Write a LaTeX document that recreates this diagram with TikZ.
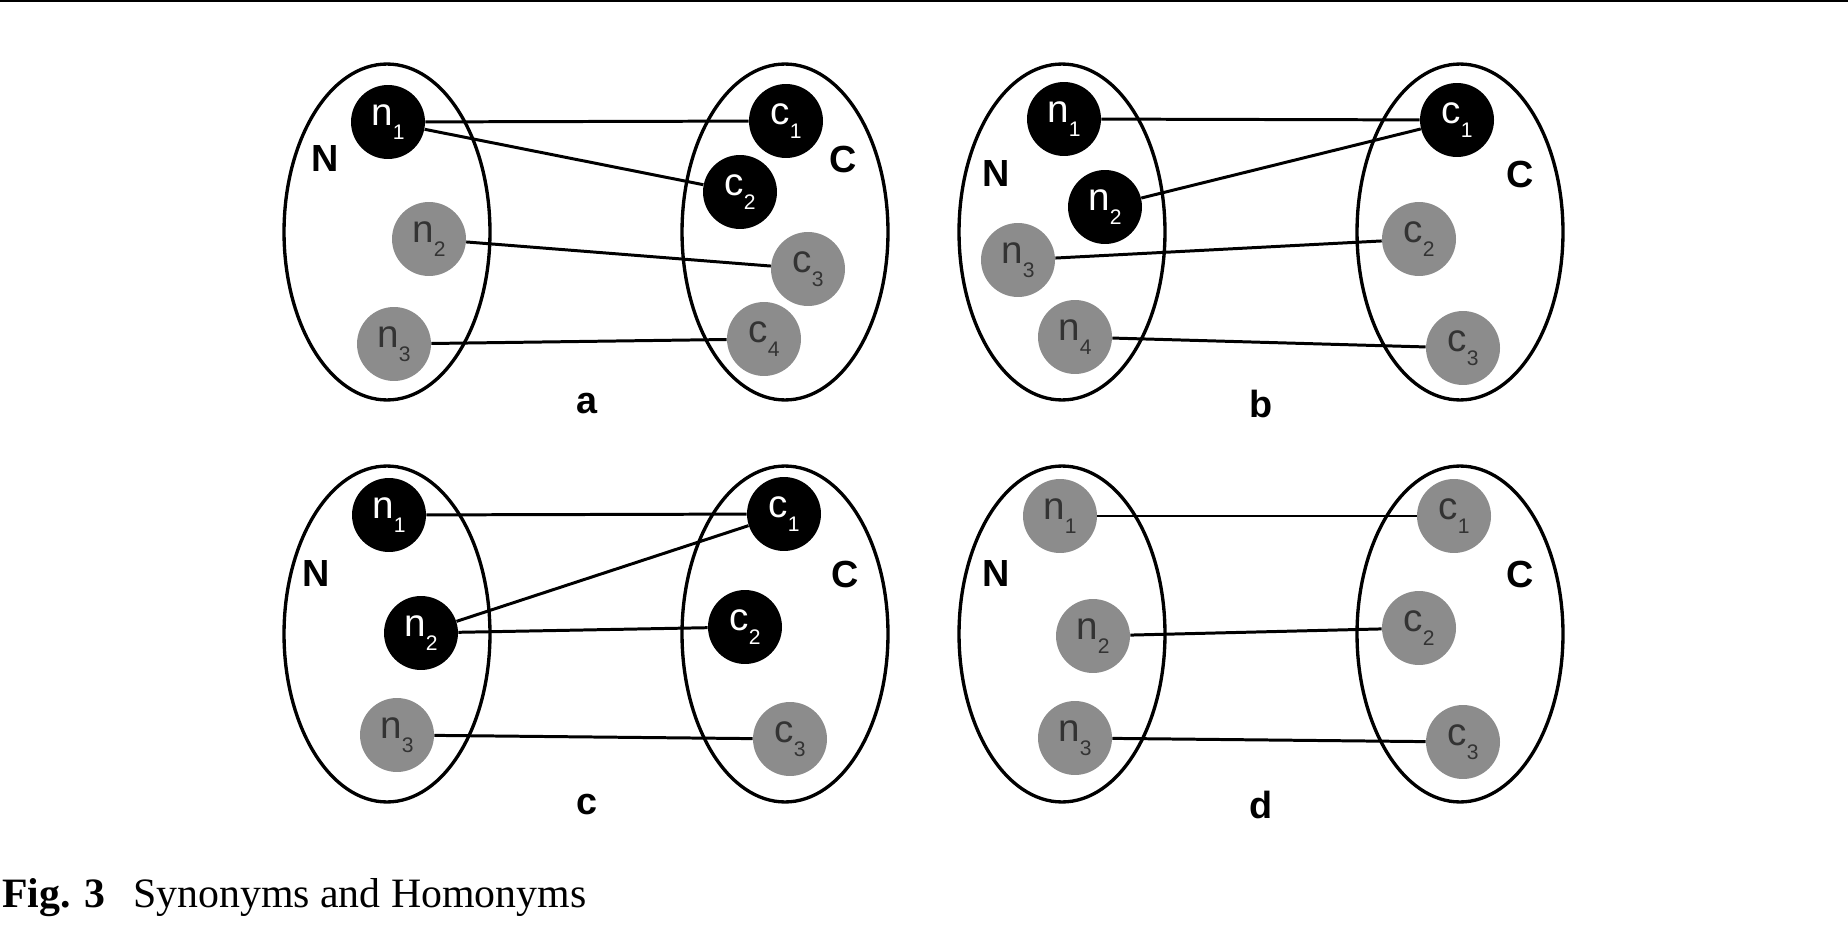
\documentclass[tikz,border=0pt]{standalone}
\usepackage{fontspec}
\setmainfont{Liberation Serif}
\newfontfamily\hv{Liberation Sans}
\usetikzlibrary{shapes.geometric}
\definecolor{nodegray}{HTML}{8C8C8C}
\definecolor{txtgray}{HTML}{333333}
\newcommand{\lab}[2]{#1\raisebox{-0.36em}{\fontsize{12}{12}\selectfont #2}}
\tikzset{
  blk/.style={circle,fill=black,text=white,minimum size=1.48cm,inner sep=0pt,
    font=\hv\fontsize{22}{22}\selectfont},
  gry/.style={circle,fill=nodegray,text=txtgray,minimum size=1.48cm,inner sep=0pt,
    font=\hv\fontsize{22}{22}\selectfont},
  setell/.style={ellipse,draw,line width=1.9pt,minimum width=4.12cm,minimum height=6.72cm,inner sep=0pt},
  conn/.style={line width=1.7pt},
  setlab/.style={font=\hv\bfseries\fontsize{21.5}{21.5}\selectfont,inner sep=0pt},
}
\begin{document}
\begin{tikzpicture}[x=0.02cm,y=-0.02cm]
\useasboundingbox (0,0) rectangle (1848,942);
\fill (0,0) rectangle (1848,2.5);
% ---------- panel a ----------
\node[setell] (aN) at (387,232) {};
\node[setell] (aC) at (785,232) {};
\node[setlab] (aNl) at (325,159) {N};
\node[setlab] (aCl) at (843,159) {C};
\node[setlab] (al) at (587,404) {a};
\node[blk] (an1) at (388,122) {\lab{n}{1}};
\node[gry] (an2) at (429,239) {\lab{n}{2}};
\node[gry] (an3) at (394,344) {\lab{n}{3}};
\node[blk] (ac1) at (786,121) {\lab{c}{1}};
\node[blk] (ac2) at (740,192) {\lab{c}{2}};
\node[gry] (ac3) at (808,269) {\lab{c}{3}};
\node[gry] (ac4) at (764,339) {\lab{c}{4}};
\draw[conn] (an1) -- (ac1);
\draw[conn] (an1) -- (ac2);
\draw[conn] (an2) -- (ac3);
\draw[conn] (an3) -- (ac4);
% ---------- panel b ----------
\node[setell] (bN) at (1062,232) {};
\node[setell] (bC) at (1460,232) {};
\node[setlab] (bNl) at (996,174) {N};
\node[setlab] (bCl) at (1520,174) {C};
\node[setlab] (bl) at (1261,404) {b};
\node[blk] (bn1) at (1064,119) {\lab{n}{1}};
\node[blk] (bn2) at (1105,207) {\lab{n}{2}};
\node[gry] (bn3) at (1018,260) {\lab{n}{3}};
\node[gry] (bn4) at (1075,337) {\lab{n}{4}};
\node[blk] (bc1) at (1457,120) {\lab{c}{1}};
\node[gry] (bc2) at (1419,239) {\lab{c}{2}};
\node[gry] (bc3) at (1463,348) {\lab{c}{3}};
\draw[conn] (bn1) -- (bc1);
\draw[conn] (bn2) -- (bc1);
\draw[conn] (bn3) -- (bc2);
\draw[conn] (bn4) -- (bc3);
% ---------- panel c ----------
\node[setell] (cN) at (387,634) {};
\node[setell] (cC) at (785,634) {};
\node[setlab] (cNl) at (316,574) {N};
\node[setlab] (cCl) at (845,574) {C};
\node[setlab] (cl) at (587,805) {c};
\node[blk] (cn1) at (389,515) {\lab{n}{1}};
\node[blk] (cn2) at (421,633) {\lab{n}{2}};
\node[gry] (cn3) at (397,735) {\lab{n}{3}};
\node[blk] (cc1) at (784,514) {\lab{c}{1}};
\node[blk] (cc2) at (745,627) {\lab{c}{2}};
\node[gry] (cc3) at (790,739) {\lab{c}{3}};
\draw[conn] (cn1) -- (cc1);
\draw[conn] (cn2) -- (cc1);
\draw[conn] (cn2) -- (cc2);
\draw[conn] (cn3) -- (cc3);
% ---------- panel d ----------
\node[setell] (dN) at (1062,634) {};
\node[setell] (dC) at (1460,634) {};
\node[setlab] (dNl) at (996,574) {N};
\node[setlab] (dCl) at (1520,574) {C};
\node[setlab] (dl) at (1261,805) {d};
\node[gry] (dn1) at (1060,516) {\lab{n}{1}};
\node[gry] (dn2) at (1093,636) {\lab{n}{2}};
\node[gry] (dn3) at (1075,738) {\lab{n}{3}};
\node[gry] (dc1) at (1454,516) {\lab{c}{1}};
\node[gry] (dc2) at (1419,628) {\lab{c}{2}};
\node[gry] (dc3) at (1463,742) {\lab{c}{3}};
\draw[conn] (dn1) -- (dc1);
\draw[conn] (dn2) -- (dc2);
\draw[conn] (dn3) -- (dc3);
% ---------- caption ----------
\node[anchor=base west,inner sep=0pt,font=\fontsize{23.8}{23.8}\selectfont\bfseries] (figno) at (2,907) {Fig. 3};
\node[anchor=base west,inner sep=0pt,font=\fontsize{23.8}{23.8}\selectfont] (figcap) at (133,907) {Synonyms and Homonyms};
\end{tikzpicture}
\end{document}
